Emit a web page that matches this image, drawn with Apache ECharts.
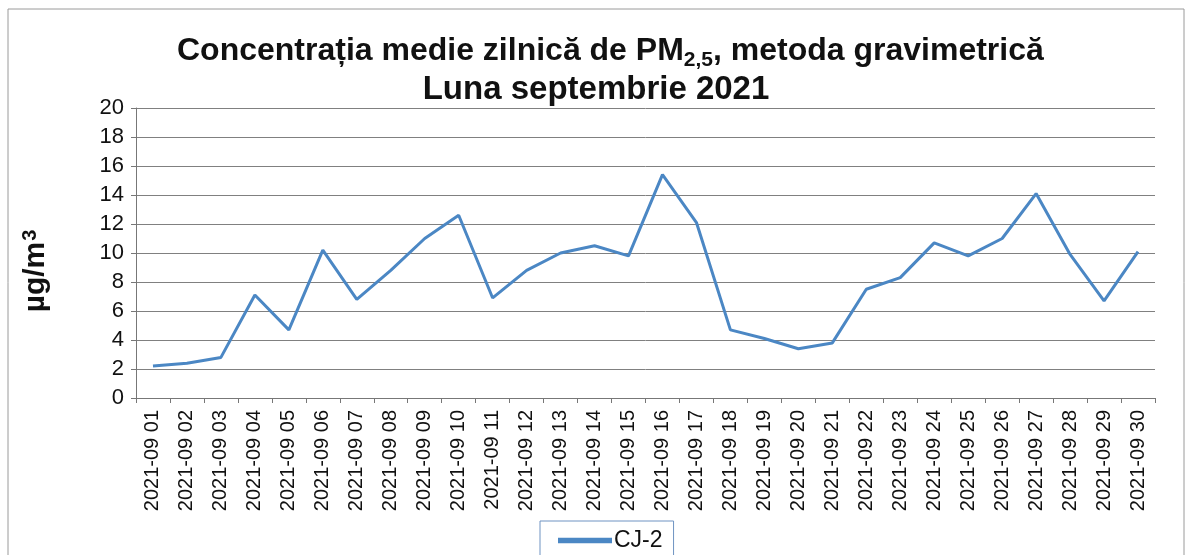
<!DOCTYPE html>
<html>
<head>
<meta charset="utf-8">
<script src="https://cdn.jsdelivr.net/npm/echarts@6/dist/echarts.min.js"></script>
<style>
  html, body { margin: 0; padding: 0; background: #fff; }
  #chartPm25 { width: 1192px; height: 555px; }
</style>
</head>
<body>
<div id="chartPm25"></div>
<script>
// categories (days of September 2021)
var days = ['2021-09 01', '2021-09 02', '2021-09 03', '2021-09 04', '2021-09 05',
  '2021-09 06', '2021-09 07', '2021-09 08', '2021-09 09', '2021-09 10',
  '2021-09 11', '2021-09 12', '2021-09 13', '2021-09 14', '2021-09 15',
  '2021-09 16', '2021-09 17', '2021-09 18', '2021-09 19', '2021-09 20',
  '2021-09 21', '2021-09 22', '2021-09 23', '2021-09 24', '2021-09 25',
  '2021-09 26', '2021-09 27', '2021-09 28', '2021-09 29', '2021-09 30']
// daily PM2.5 mean, station CJ-2 (ug/m3)
var cj2 = [2.2, 2.4, 2.8, 7.1, 4.7, 10.2, 6.8, 8.8, 11.0, 12.6,
  6.9, 8.8, 10.0, 10.5, 9.8, 15.4, 12.1, 4.7, 4.1, 3.4,
  3.8, 7.5, 8.3, 10.7, 9.8, 11.0, 14.1, 9.9, 6.7, 10.1]
var seriesName = 'CJ-2'

var chartEl = document.getElementById('chartPm25')
var chart = echarts.init(chartEl)

var option = {
  animation: false,
  textStyle: { fontFamily: 'Liberation Sans, Arial, sans-serif' },
  title: [
    {
      text: 'Concentrația medie zilnică de PM{sub|2,5}, metoda gravimetrică',
      left: 172,
      top: 27,
      textStyle: {
        fontSize: 32,
        fontWeight: 'bold',
        color: '#111',
        rich: {
          sub: { fontSize: 21, fontWeight: 'bold', color: '#111', verticalAlign: 'bottom', padding: [18, 0, 0, 0] }
        }
      }
    },
    {
      text: 'Luna septembrie 2021',
      left: 'center',
      top: 68,
      textStyle: { fontSize: 33, fontWeight: 'bold', color: '#111' }
    }
  ],
  legend: {
    data: [seriesName],
    left: 540,
    top: 521,
    padding: [8, 11, 12, 18],
    borderColor: '#6f93c2',
    borderWidth: 1,
    itemWidth: 54,
    itemGap: 4,
    textStyle: { fontSize: 23, color: '#111', padding: [0, 0, 0, -3] },
    icon: 'path://M0,0 L10,0 L10,1 L0,1 Z'
  },
  grid: { left: 136, right: 37, top: 108, bottom: 157 },
  xAxis: {
    type: 'category',
    data: days,
    boundaryGap: true,
    axisLine: { lineStyle: { color: '#777', width: 1 } },
    axisTick: { show: true, length: 5, lineStyle: { color: '#777' } },
    axisLabel: { rotate: 90, fontSize: 20, color: '#111', margin: 12, interval: 0 }
  },
  yAxis: {
    type: 'value',
    min: 0,
    max: 20,
    interval: 2,
    name: 'µg/m{sup|3}',
    nameLocation: 'middle',
    nameRotate: 90,
    nameGap: 84,
    nameTextStyle: {
      fontSize: 30,
      fontWeight: 'bold',
      color: '#111',
      padding: [0, 36, 0, 0],
      rich: {
        sup: { fontSize: 20, fontWeight: 'bold', color: '#111', verticalAlign: 'top', padding: [0, 0, 12, 1] }
      }
    },
    axisLine: { show: true, lineStyle: { color: '#777' } },
    axisTick: { show: true, length: 5, lineStyle: { color: '#777' } },
    axisLabel: { fontSize: 22, color: '#111', margin: 12 },
    splitLine: { lineStyle: { color: '#808080', width: 1 } }
  },
  series: [
    {
      name: seriesName,
      type: 'line',
      data: cj2,
      symbol: 'none',
      lineStyle: { color: '#4b87c4', width: 3 },
      itemStyle: { color: '#4b87c4' }
    }
  ],
  graphic: [
    {
      type: 'rect',
      shape: { x: 8, y: 9, width: 1176, height: 560 },
      style: { fill: 'none', stroke: '#9a9a9a', lineWidth: 1 },
      silent: true
    }
  ]
}
chart.setOption(option, true)
</script>
</body>
</html>
